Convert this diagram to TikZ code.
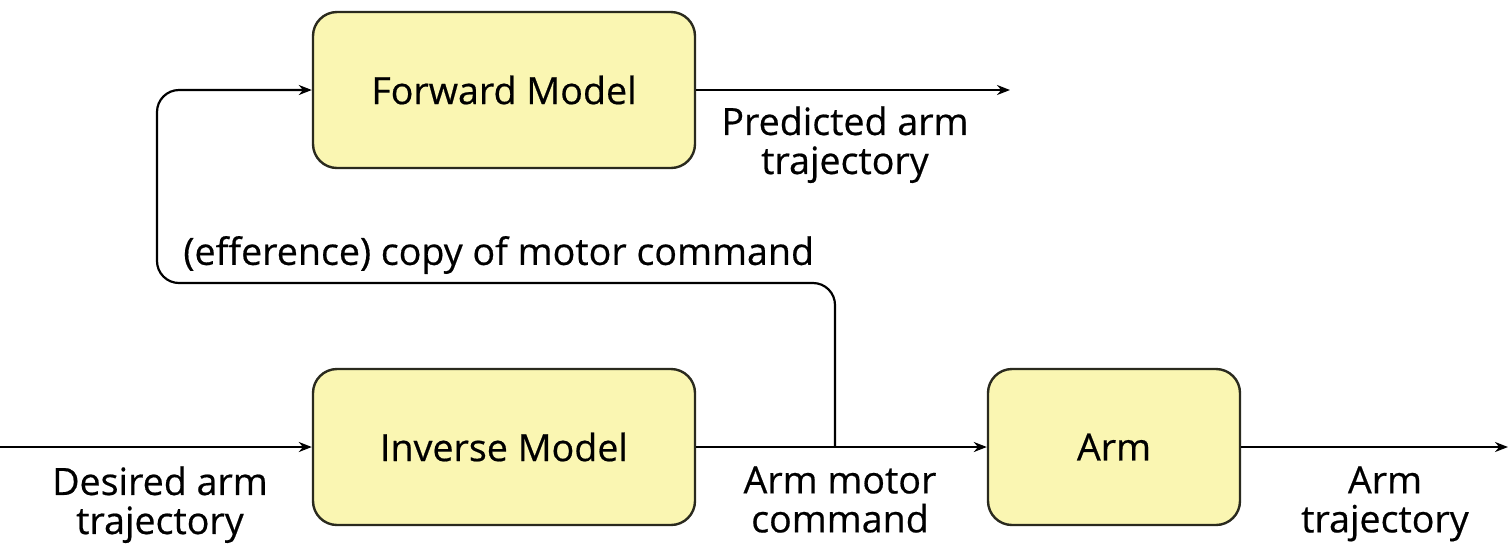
\documentclass[tikz,border=0pt]{standalone}
\usepackage{fontspec}
\setmainfont{Open Sans}
\newfontfamily\lblfam{Open Sans}[FakeBold=0.5]
\usetikzlibrary{arrows.meta}
\definecolor{boxfill}{HTML}{FAF6B2}
\definecolor{boxline}{HTML}{2A2A1E}
\newcommand{\lblfont}{\lblfam\fontsize{18.8}{19.5}\selectfont}
\tikzset{
  block/.style={draw=boxline, line width=1.2pt, fill=boxfill, rounded corners=12pt, minimum height=78pt, font=\lblfont},
  arr/.style={line width=1.1pt, -{Stealth[length=6.5pt,width=5pt]}},
  lbl/.style={align=center, font=\lblfont, inner sep=0pt},
}
\begin{document}
\begin{tikzpicture}[x=0.5pt,y=-0.5pt]
\useasboundingbox (0,0) rectangle (1510,543);
\node[block, minimum width=191pt] (fwd) at (504,90) {Forward Model};
\node[block, minimum width=191pt] (inv) at (504,447) {Inverse Model};
\node[block, minimum width=126pt] (arm) at (1114,447) {Arm};
\coordinate (in) at (0,447);
\coordinate (out) at (1508,447);
\coordinate (pout) at (1010,90);
\coordinate (jn) at (835,447);
\coordinate (c1) at (835,283);
\coordinate (c2) at (157,283);
\coordinate (c3) at (157,90);
\draw[arr] (in) -- (inv.west);
\draw[arr] (inv.east) -- (arm.west);
\draw[arr] (arm.east) -- (out);
\draw[arr] (fwd.east) -- (pout);
\draw[arr, rounded corners=11pt] (jn) -- (c1) -- (c2) -- (c3) -- (fwd.west);
\node[lbl, anchor=north] (l1) at (160,466) {Desired arm\\trajectory};
\node[lbl, anchor=north] (l2) at (840,466) {Arm motor\\command};
\node[lbl, anchor=north] (l3) at (1385,466) {Arm\\trajectory};
\node[lbl, anchor=north] (l4) at (845,106) {Predicted arm\\trajectory};
\node[lbl, anchor=west] (l5) at (183,255) {(efference) copy of motor command};
\end{tikzpicture}
\end{document}
